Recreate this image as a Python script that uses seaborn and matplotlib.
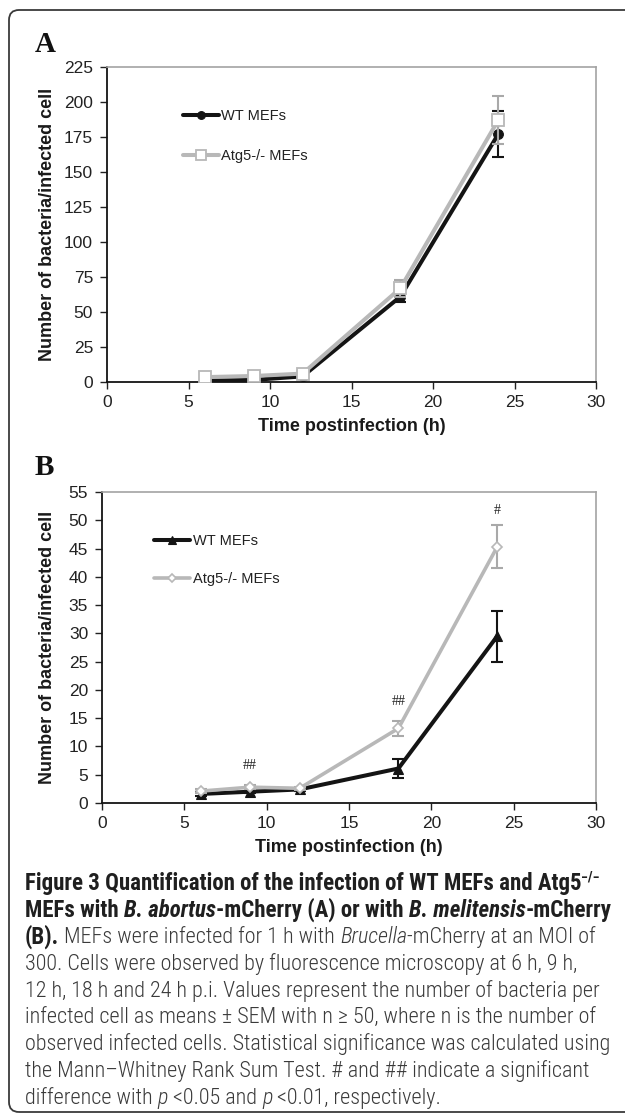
import matplotlib
matplotlib.use("Agg")
import matplotlib.pyplot as plt
import seaborn as sns
from matplotlib.patches import FancyBboxPatch
from matplotlib.transforms import IdentityTransform
from matplotlib import font_manager

# ---------------- data ----------------
time_h = [6, 9, 12, 18, 24]

a_wt_mean = [1.0, 1.5, 4.0, 61.0, 177.0]
a_wt_sem = [0.5, 0.5, 1.0, 3.5, 16.5]
a_ko_mean = [3.5, 4.3, 6.0, 67.0, 187.0]
a_ko_sem = [0.8, 1.0, 1.5, 6.0, 17.0]

b_wt_mean = [1.6, 2.0, 2.4, 6.1, 29.5]
b_wt_sem = [0.3, 0.3, 0.3, 1.7, 4.5]
b_ko_mean = [2.1, 2.8, 2.6, 13.2, 45.3]
b_ko_sem = [0.3, 0.4, 0.3, 1.3, 3.8]

series_labels = ["WT MEFs", "Atg5-/- MEFs"]
x_ticks = [0, 5, 10, 15, 20, 25, 30]
a_y_ticks = [0, 25, 50, 75, 100, 125, 150, 175, 200, 225]
b_y_ticks = [0, 5, 10, 15, 20, 25, 30, 35, 40, 45, 50, 55]

b_sig_x = [9, 18, 24]
b_sig_y = [6.7, 17.9, 51.7]
b_sig_text = ["##", "##", "#"]

x_label = "Time postinfection (h)"
y_label = "Number of bacteria/infected cell"

# ---------------- style ----------------
sns.set_theme(style="white")
plt.rcParams["font.family"] = ["Liberation Sans", "DejaVu Sans"]

W, H = 625, 1115
fig = plt.figure(figsize=(W / 100, H / 100), dpi=100)
fig.patch.set_facecolor("white")

BLACK = "#141414"
GRAY = "#b8b8b8"
GRAY_ERR = "#a9a9a9"


def px_axes(left, top, right, bottom):
    return fig.add_axes([left / W, 1 - bottom / H, (right - left) / W, (bottom - top) / H])


def style_axes(ax, yticks, ylim, ylab_x, xlab_y):
    ax.set_xlim(0, 30)
    ax.set_ylim(*ylim)
    ax.set_xticks(x_ticks)
    ax.set_yticks(yticks)
    ax.tick_params(axis="both", which="major", direction="out", length=5, width=1,
                   colors="#222222", labelsize=12.5, bottom=True, left=True)
    ax.tick_params(axis="x", pad=4)
    ax.tick_params(axis="y", pad=5)
    for s in ("left", "bottom"):
        ax.spines[s].set_color(BLACK)
        ax.spines[s].set_linewidth(1.3)
    for s in ("top", "right"):
        ax.spines[s].set_color("#a3a3a3")
        ax.spines[s].set_linewidth(1.2)
    ax.set_xlabel(x_label, fontsize=13, fontweight="bold", color="#1a1a1a")
    ax.set_ylabel(y_label, fontsize=13, fontweight="bold", color="#1a1a1a")
    ax.yaxis.set_label_coords(ylab_x, 0.5)
    ax.xaxis.set_label_coords(0.5, xlab_y)
    ax.grid(False)


def draw_series(ax, mean, sem, color, ecolor, marker, ms, mfc, mec, mew, lw, label, z):
    ax.errorbar(time_h, mean, yerr=sem, fmt="none", ecolor=ecolor, elinewidth=1.5,
                capsize=4, capthick=1.5, zorder=z)
    sns.lineplot(x=time_h, y=mean, ax=ax, color=color, linewidth=lw, marker=marker,
                 markersize=ms, markerfacecolor=mfc, markeredgecolor=mec,
                 markeredgewidth=mew, label=label, errorbar=None, zorder=z + 1)


# ---------------- panel A ----------------
axA = px_axes(107, 67, 596, 382)
draw_series(axA, a_wt_mean, a_wt_sem, BLACK, BLACK, "o", 7, BLACK, BLACK, 0.8, 2.9,
            series_labels[0], 2)
draw_series(axA, a_ko_mean, a_ko_sem, GRAY, GRAY_ERR, "s", 8.5, "white", GRAY, 1.3, 2.9,
            series_labels[1], 4)
style_axes(axA, a_y_ticks, (0, 225), -0.104, -0.115)
legA = axA.legend(loc="upper left", bbox_to_anchor=(0.155, 0.866), frameon=False,
                  handlelength=2.5, handletextpad=0.15, labelspacing=1.8, fontsize=10.5,
                  borderpad=0, borderaxespad=0, markerscale=0.8)
for t in legA.get_texts():
    t.set_color("#222222")

# ---------------- panel B ----------------
axB = px_axes(102, 492, 596, 803)
draw_series(axB, b_wt_mean, b_wt_sem, BLACK, BLACK, "^", 6.5, BLACK, BLACK, 0.8, 2.9,
            series_labels[0], 2)
draw_series(axB, b_ko_mean, b_ko_sem, GRAY, GRAY_ERR, "D", 5, "white", GRAY, 1.2, 2.6,
            series_labels[1], 4)
style_axes(axB, b_y_ticks, (0, 55), -0.093, -0.115)
legB = axB.legend(loc="upper left", bbox_to_anchor=(0.105, 0.864), frameon=False,
                  handlelength=2.5, handletextpad=0.15, labelspacing=1.6, fontsize=10.5,
                  borderpad=0, borderaxespad=0, markerscale=0.9)
for t in legB.get_texts():
    t.set_color("#222222")
for sx, sy, st in zip(b_sig_x, b_sig_y, b_sig_text):
    axB.text(sx, sy, st, ha="center", va="center", fontsize=10,
             family=["Liberation Serif", "DejaVu Serif"], color="#222222")

# ---------------- panel letters ----------------
fig.text(35 / W, 1 - 52 / H, "A", fontsize=21, fontweight="bold",
         family=["Liberation Serif", "DejaVu Serif"], color="#111111", va="baseline")
fig.text(35 / W, 1 - 475 / H, "B", fontsize=21, fontweight="bold",
         family=["Liberation Serif", "DejaVu Serif"], color="#111111", va="baseline")

# ---------------- caption ----------------
names = {f.name for f in font_manager.fontManager.ttflist}
cap_family = "Roboto"
for cand in ["Roboto Condensed", "Liberation Sans Narrow", "Open Sans Condensed"]:
    if cand in names:
        cap_family = cand
        break
cap_fam = [cap_family, "DejaVu Sans"]
NORMAL_W = "light"

renderer = fig.canvas.get_renderer()


def measure(txt, fs, weight="normal", style="normal"):
    t1 = fig.text(0, 0, "|" + txt + "|", fontsize=fs, fontweight=weight, fontstyle=style,
                  family=cap_fam)
    t2 = fig.text(0, 0, "||", fontsize=fs, fontweight=weight, fontstyle=style, family=cap_fam)
    w = t1.get_window_extent(renderer).width - t2.get_window_extent(renderer).width
    t1.remove()
    t2.remove()
    return w


B_, N_ = "bold", "normal"
caption_lines = [
    [("Figure 3 Quantification of the infection of WT MEFs and Atg5", B_, N_), ("SUP−/−", B_, N_)],
    [("MEFs with ", B_, N_), ("B. abortus", B_, "italic"), ("-mCherry (A) or with ", B_, N_),
     ("B. melitensis", B_, "italic"), ("-mCherry", B_, N_)],
    [("(B).", B_, N_), (" MEFs were infected for 1 h with ", N_, N_), ("Brucella", N_, "italic"),
     ("-mCherry at an MOI of", N_, N_)],
    [("300. Cells were observed by fluorescence microscopy at 6 h, 9 h,", N_, N_)],
    [("12 h, 18 h and 24 h p.i. Values represent the number of bacteria per", N_, N_)],
    [("infected cell as means ± SEM with n ≥ 50, where n is the number of", N_, N_)],
    [("observed infected cells. Statistical significance was calculated using", N_, N_)],
    [("the Mann–Whitney Rank Sum Test. # and ## indicate a significant", N_, N_)],
    [("difference with ", N_, N_), ("p", N_, "italic"), (" <0.05 and ", N_, N_), ("p", N_, "italic"),
     (" <0.01, respectively.", N_, N_)],
]
# widths (px) that these plain lines take in the figure
line_targets = {3: 555, 4: 586, 5: 605, 6: 598, 7: 590}


def wt(w):
    return NORMAL_W if w == N_ else w


norm_fs = min(10 * tgt / measure(caption_lines[k][0][0], 10, NORMAL_W)
              for k, tgt in line_targets.items())
bold_w = sum(measure(t, 10, w, s) for t, w, s in caption_lines[1])
bold_fs = 10 * 587 / bold_w

x_left = 25
y0 = 890
for i, runs in enumerate(caption_lines):
    ypx = y0 + i * 26.7
    xpx = x_left
    for txt, weight, style in runs:
        fs = bold_fs if weight == "bold" else norm_fs
        col = "#1f1f1f" if weight == "bold" else "#3a3a3a"
        if txt.startswith("SUP"):
            fig.text(xpx / W, 1 - (ypx - 8) / H, txt[3:], fontsize=fs * 0.62, fontweight=weight,
                     family=cap_fam, color=col, va="baseline", ha="left")
            continue
        fig.text(xpx / W, 1 - ypx / H, txt, fontsize=fs, fontweight=wt(weight),
                 fontstyle=style, family=cap_fam, color=col, va="baseline", ha="left")
        xpx += measure(txt, fs, wt(weight), style)

# ---------------- frame ----------------
frame = FancyBboxPatch((9, H - 1112), 700, 1102, boxstyle="round,pad=0,rounding_size=10",
                       transform=IdentityTransform(), facecolor="none", edgecolor="#3a3a3a",
                       linewidth=1.3, clip_on=False)
fig.add_artist(frame)

fig.savefig("out.png", dpi=100)
